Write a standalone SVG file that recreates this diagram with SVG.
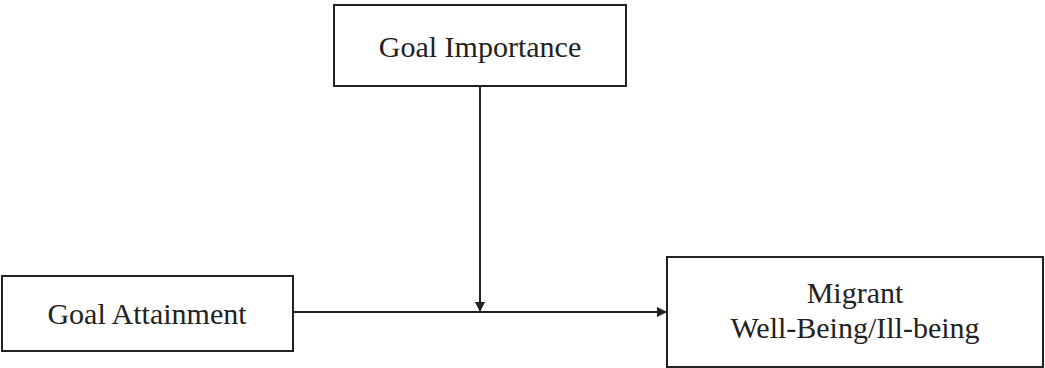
<svg xmlns="http://www.w3.org/2000/svg" width="1045" height="368" viewBox="0 0 1045 368">
<style>
.box{fill:#fff;stroke:#222;stroke-width:2}
.lbl{font-family:"Liberation Serif","Times New Roman",serif;font-size:30px;fill:#222;text-anchor:middle}
.ln{stroke:#222;stroke-width:2;fill:none}
</style>
<defs>
<marker id="ah" viewBox="0 0 10 10" refX="10" refY="5" markerWidth="5" markerHeight="5" orient="auto" markerUnits="strokeWidth">
<path d="M0,0 L10,5 L0,10 z" fill="#222"/>
</marker>
</defs>
<rect width="1045" height="368" fill="#fff"/>
<g id="connectors">
<line class="ln" x1="293" y1="312" x2="667" y2="312" marker-end="url(#ah)"/>
<line class="ln" x1="480" y1="86" x2="480" y2="312" marker-end="url(#ah)"/>
</g>
<g id="goal-importance">
<rect class="box" x="334" y="5" width="292" height="81"/>
<text class="lbl" x="480" y="57">Goal Importance</text>
</g>
<g id="goal-attainment">
<rect class="box" x="2" y="276" width="291" height="75"/>
<text class="lbl" x="147" y="324">Goal Attainment</text>
</g>
<g id="migrant">
<rect class="box" x="667" y="257" width="376" height="110"/>
<text class="lbl" x="855" y="303">Migrant</text>
<text class="lbl" x="855" y="338">Well-Being/Ill-being</text>
</g>
</svg>
